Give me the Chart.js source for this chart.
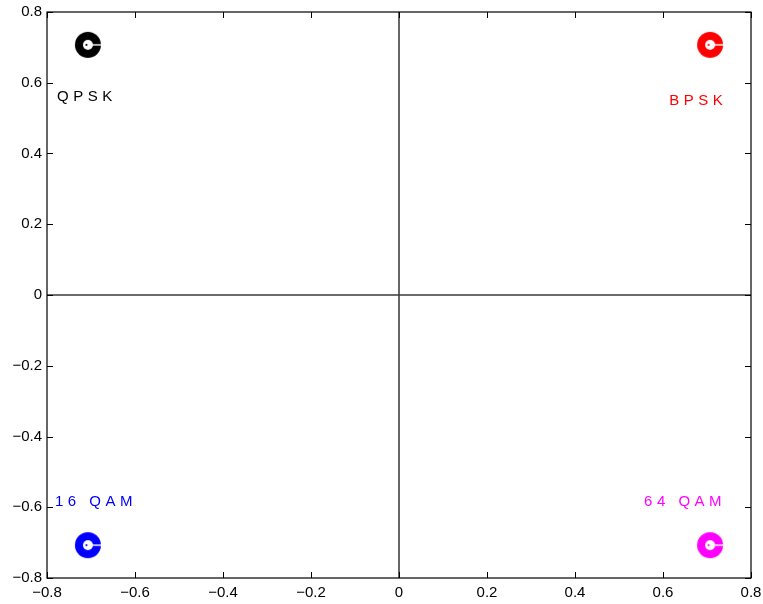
<!DOCTYPE html>
<html>
<head>
<meta charset="utf-8">
<script src="https://cdn.jsdelivr.net/npm/chart.js@4.4.0/dist/chart.umd.min.js"></script>
<style>
  html, body { margin: 0; padding: 0; background: #ffffff; }
  #wrap { width: 763px; height: 604px; position: relative; }
</style>
</head>
<body>
<div id="wrap"><canvas id="c"></canvas></div>
<script>
// Constellation points: one symbol per modulation
const schemes = ['BPSK', 'QPSK', '16 QAM', '64 QAM'];
const symbolI = [0.7071, -0.7071, -0.7071, 0.7071];
const symbolQ = [0.7071, 0.7071, -0.7071, -0.7071];
const schemeColors = ['#ff0000', '#000000', '#0000ff', '#ff00ff'];

// Where each scheme name is written
const labelI = [0.614, -0.777, -0.782, 0.557];
const labelQ = [0.550, 0.559, -0.586, -0.586];

// Axis tick values
const tickValues = [-0.8, -0.6, -0.4, -0.2, 0, 0.2, 0.4, 0.6, 0.8];

function fmtTick(v) {
  const r = Math.round(v * 10) / 10;
  if (r === 0) return '0';
  const s = Math.abs(r).toFixed(1);
  return (r < 0 ? '\u2212' : '') + s;
}

// Thick ring marker with a small open centre and a notch to the right
function makeMarker(color) {
  const size = 28;
  const cv = document.createElement('canvas');
  cv.width = size; cv.height = size;
  const g = cv.getContext('2d');
  const c = size / 2;
  g.fillStyle = color;
  g.beginPath(); g.arc(c, c, 13, 0, Math.PI * 2); g.fill();
  g.fillStyle = '#ffffff';
  g.beginPath(); g.arc(c, c, 5, 0, Math.PI * 2); g.fill();
  g.strokeStyle = '#ffffff';
  g.lineWidth = 1.4;
  g.beginPath(); g.moveTo(c, c); g.lineTo(size, c); g.stroke();
  g.fillStyle = color;
  g.beginPath(); g.arc(c - 1.5, c, 1.1, 0, Math.PI * 2); g.fill();
  return cv;
}

const pointDatasets = schemes.map((name, i) => ({
  type: 'scatter',
  label: name,
  data: [{ x: symbolI[i], y: symbolQ[i] }],
  pointStyle: makeMarker(schemeColors[i]),
  pointRadius: 14,
  pointHoverRadius: 14
}));

// Axis cross lines through the origin
const crossDatasets = [
  {
    type: 'line', label: 'I axis',
    data: [{ x: -0.8, y: 0 }, { x: 0.8, y: 0 }],
    borderColor: '#3a3a3a', borderWidth: 1.6, pointRadius: 0, fill: false
  },
  {
    type: 'line', label: 'Q axis',
    data: [{ x: 0, y: -0.8 }, { x: 0, y: 0.8 }],
    borderColor: '#000000', borderWidth: 1.2, pointRadius: 0, fill: false
  }
];

// Frame, inward ticks and scheme names
const framePlugin = {
  id: 'frame',
  afterDatasetsDraw(chart) {
    const { ctx, chartArea: a, scales } = chart;
    const xs = scales.x, ys = scales.y;
    ctx.save();
    ctx.strokeStyle = '#000000';
    ctx.lineWidth = 1.2;
    ctx.strokeRect(a.left, a.top, a.right - a.left, a.bottom - a.top);
    const tl = 6;
    ctx.beginPath();
    tickValues.forEach(v => {
      const px = Math.round(xs.getPixelForValue(v)) + 0.5;
      ctx.moveTo(px, a.bottom); ctx.lineTo(px, a.bottom - tl);
      ctx.moveTo(px, a.top); ctx.lineTo(px, a.top + tl);
      const py = Math.round(ys.getPixelForValue(v)) + 0.5;
      ctx.moveTo(a.left, py); ctx.lineTo(a.left + tl, py);
      ctx.moveTo(a.right, py); ctx.lineTo(a.right - tl, py);
    });
    ctx.lineWidth = 1;
    ctx.stroke();

    ctx.font = '15px "Liberation Sans", Arial, sans-serif';
    ctx.textAlign = 'left';
    ctx.textBaseline = 'middle';
    ctx.letterSpacing = '4.5px';
    schemes.forEach((t, i) => {
      ctx.fillStyle = schemeColors[i];
      ctx.fillText(t, xs.getPixelForValue(labelI[i]), ys.getPixelForValue(labelQ[i]));
    });
    ctx.restore();
  }
};

const tickFont = { family: '"Liberation Sans", Arial, sans-serif', size: 15 };

new Chart(document.getElementById('c'), {
  type: 'scatter',
  data: { datasets: [...crossDatasets, ...pointDatasets] },
  options: {
    responsive: true,
    maintainAspectRatio: false,
    animation: false,
    events: [],
    layout: { autoPadding: false, padding: { top: 12, right: 12, left: 0, bottom: 0 } },
    plugins: { legend: { display: false }, tooltip: { enabled: false } },
    scales: {
      x: {
        type: 'linear', min: -0.8, max: 0.8,
        afterBuildTicks(s) { s.ticks = tickValues.map(v => ({ value: v })); },
        afterFit(s) { s.height = 26; s.paddingLeft = 0; s.paddingRight = 0; },
        grid: { display: false, drawTicks: false },
        border: { display: false },
        ticks: { color: '#000', font: tickFont, padding: 6, maxRotation: 0, autoSkip: false,
                 callback: v => fmtTick(v) }
      },
      y: {
        type: 'linear', min: -0.8, max: 0.8,
        afterBuildTicks(s) { s.ticks = tickValues.map(v => ({ value: v })); },
        afterFit(s) { s.width = 47; s.paddingTop = 0; s.paddingBottom = 0; },
        grid: { display: false, drawTicks: false },
        border: { display: false },
        ticks: { color: '#000', font: tickFont, padding: 5, autoSkip: false,
                 callback: v => fmtTick(v) }
      }
    }
  },
  plugins: [framePlugin]
});
</script>
</body>
</html>
